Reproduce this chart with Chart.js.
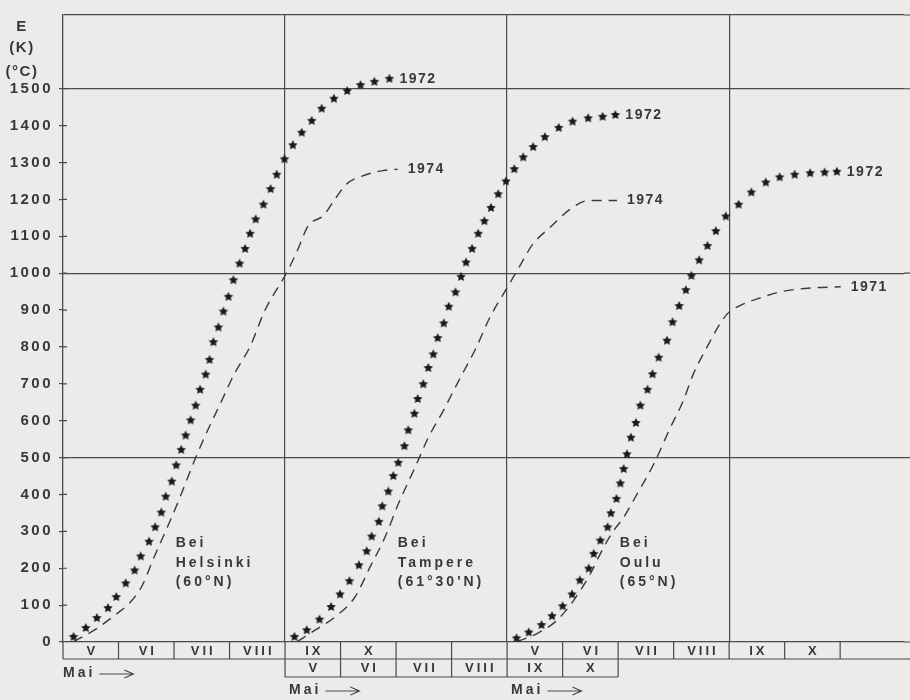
<!DOCTYPE html>
<html>
<head>
<meta charset="utf-8">
<script src="https://cdn.jsdelivr.net/npm/chart.js@4"></script>
<style>
  html, body { margin: 0; padding: 0; background: #ebebe9; overflow: hidden; }
  canvas { display: block; }
</style>
</head>
<body>
<canvas id="sumChart" width="910" height="700"></canvas>
<script>
// Temperatursummen E (K), x in Monaten ab Anfang Mai (jede Station um 4 Monate versetzt)
const helsinki1972 = [[0.19,14],[0.41,38],[0.61,65],[0.81,92],[0.96,122],[1.13,159],[1.29,194],[1.40,232],[1.55,272],[1.66,311],[1.77,351],[1.85,394],[1.96,435],[2.04,479],[2.13,521],[2.21,560],[2.30,601],[2.39,641],[2.47,684],[2.57,725],[2.64,765],[2.71,813],[2.80,853],[2.89,896],[2.98,936],[3.07,981],[3.18,1026],[3.28,1066],[3.37,1107],[3.47,1146],[3.61,1186],[3.74,1228],[3.85,1267],[3.99,1309],[4.14,1347],[4.30,1381],[4.48,1413],[4.66,1446],[4.88,1473],[5.12,1494],[5.36,1510],[5.61,1519],[5.88,1527]];
const helsinki1974 = [[0.19,1],[0.56,32],[0.98,78],[1.22,109],[1.43,154],[1.64,230],[1.88,311],[2.12,397],[2.39,500],[2.60,572],[2.83,645],[3.08,725],[3.37,801],[3.64,900],[4.02,999],[4.21,1057],[4.42,1129],[4.69,1156],[4.90,1201],[5.11,1242],[5.40,1264],[5.76,1278],[6.03,1282]];
const tampere1972 = [[4.17,14],[4.39,32],[4.62,61],[4.83,95],[4.99,129],[5.16,165],[5.33,208],[5.47,246],[5.56,286],[5.69,326],[5.75,368],[5.86,408],[5.95,450],[6.04,486],[6.15,531],[6.22,574],[6.33,619],[6.39,659],[6.49,699],[6.58,743],[6.67,780],[6.75,824],[6.86,864],[6.95,909],[7.07,948],[7.17,990],[7.26,1029],[7.37,1066],[7.48,1107],[7.59,1141],[7.71,1177],[7.84,1214],[7.98,1249],[8.13,1282],[8.29,1314],[8.47,1342],[8.68,1369],[8.93,1394],[9.18,1411],[9.46,1420],[9.72,1424],[9.95,1429]];
const tampere1974 = [[4.22,1],[4.54,32],[4.90,68],[5.26,122],[5.53,203],[5.80,284],[6.04,374],[6.34,473],[6.58,554],[6.88,635],[7.00,671],[7.22,734],[7.44,797],[7.68,877],[8.01,963],[8.22,1017],[8.45,1076],[8.81,1129],[9.14,1174],[9.47,1197],[9.98,1197]];
const oulu1972 = [[8.17,10],[8.39,26],[8.62,46],[8.81,70],[9.00,97],[9.17,129],[9.31,167],[9.47,199],[9.56,239],[9.68,275],[9.81,311],[9.87,349],[9.97,388],[10.04,430],[10.10,469],[10.16,509],[10.23,554],[10.32,594],[10.40,641],[10.53,684],[10.62,726],[10.73,771],[10.88,817],[10.98,867],[11.10,911],[11.22,954],[11.32,993],[11.46,1035],[11.61,1074],[11.76,1114],[11.94,1154],[12.17,1186],[12.40,1219],[12.66,1246],[12.91,1260],[13.18,1267],[13.46,1271],[13.72,1273],[13.94,1275]];
const oulu1971 = [[8.18,1],[8.54,23],[8.90,59],[9.20,113],[9.50,185],[9.74,257],[9.92,302],[10.10,338],[10.34,401],[10.64,482],[10.94,581],[11.17,653],[11.35,725],[11.56,788],[11.95,887],[12.22,914],[12.52,931],[12.94,950],[13.48,960],[14.01,963]];

// Monatskästchen unter der Achse
const monthRow1 = ['V','VI','VII','VIII','IX','X','','','V','VI','VII','VIII','IX','X',''];
const monthRow2 = ['V','VI','VII','VIII','IX','X'];
const row2Start = 4;

// Stationen (Beginn in Monaten) und Beschriftung
const panelStarts = [0, 4, 8];
const panelCaptions = [
    ['Bei', 'Helsinki', '(60°N)'],
    ['Bei', 'Tampere', "(61°30'N)"],
    ['Bei', 'Oulu', '(65°N)']
];

const yTickValues = [0,100,200,300,400,500,600,700,800,900,1000,1100,1200,1300,1400,1500,1600,1700];
const yGridValues = [500, 1000, 1500, 1700];
const xPanelLines = [0, 4, 8, 12];

const ink = '#383838';
const lineCol = '#4a4a4a';
const paper = '#ebebe9';
const fontFam = '"Liberation Sans", Arial, sans-serif';

// gefüllter fünfzackiger Stern als Punktsymbol
function makeStar(r) {
    const c = document.createElement('canvas');
    c.width = c.height = 2 * r + 2;
    const g = c.getContext('2d');
    g.translate(r + 1, r + 1);
    g.beginPath();
    for (let i = 0; i < 10; i++) {
        const rad = i % 2 ? r * 0.5 : r;
        const a = -Math.PI / 2 + i * Math.PI / 5;
        g.lineTo(rad * Math.cos(a), rad * Math.sin(a));
    }
    g.closePath();
    g.fillStyle = '#1a1a1a';
    g.fill();
    return c;
}
const star = makeStar(5);

const toXY = arr => arr.map(p => ({ x: p[0], y: p[1] }));

function starSet(label, arr) {
    return {
        label: label, data: toXY(arr), showLine: false,
        pointStyle: star, pointRadius: 5, pointHoverRadius: 5
    };
}
function dashSet(label, arr) {
    return {
        label: label, data: toXY(arr), showLine: true,
        borderColor: '#3a3a3a', borderWidth: 1.4, borderDash: [10, 7],
        cubicInterpolationMode: 'monotone', pointRadius: 0, pointHoverRadius: 0
    };
}

const datasets = [
    starSet('1972', helsinki1972), dashSet('1974', helsinki1974),
    starSet('1972', tampere1972), dashSet('1974', tampere1974),
    starSet('1972', oulu1972), dashSet('1971', oulu1971)
];

const figurePlugin = {
    id: 'figure',
    beforeDraw(chart) {
        const c = chart.ctx;
        c.save();
        c.fillStyle = paper;
        c.fillRect(0, 0, chart.width, chart.height);
        c.restore();
        // gesperrte Schrift auch für die Achsenbeschriftung
        c.letterSpacing = '2.5px';
    },
    afterDraw(chart) {
        const c = chart.ctx;
        const xs = chart.scales.x, ys = chart.scales.y;
        const area = chart.chartArea;
        const X = v => xs.getPixelForValue(v);
        const Y = v => ys.getPixelForValue(v);
        const right = chart.width;
        c.save();
        c.fillStyle = ink;
        c.strokeStyle = lineCol;
        c.lineWidth = 1.2;

        // Achsentitel
        c.font = 'bold 15px ' + fontFam;
        c.letterSpacing = '1.5px';
        c.textAlign = 'center';
        c.textBaseline = 'middle';
        c.fillText('E', 22, 27);
        c.fillText('(K)', 22, 48);
        c.fillText('(°C)', 22, 72);

        // kleine Striche innen an der y-Achse, Gitterlinien bis zum Rand
        c.beginPath();
        yTickValues.forEach(v => {
            if (v > 0 && v <= 1500) {
                c.moveTo(area.left, Y(v));
                c.lineTo(area.left + 4, Y(v));
            }
        });
        yGridValues.forEach(v => { c.moveTo(area.right, Y(v)); c.lineTo(right, Y(v)); });
        c.moveTo(area.right, area.bottom); c.lineTo(right, area.bottom);
        c.stroke();

        // Monatskästchen
        const base = area.bottom;
        const r1 = base + 17, r2 = base + 35;
        c.beginPath();
        c.moveTo(area.left, r1); c.lineTo(right, r1);
        for (let i = 0; i < monthRow1.length; i++) {
            c.moveTo(X(i), base); c.lineTo(X(i), r1);
        }
        const r2End = row2Start + monthRow2.length;
        c.moveTo(X(row2Start), r1); c.lineTo(X(row2Start), r2);
        c.lineTo(X(r2End), r2);
        for (let i = 1; i <= monthRow2.length; i++) {
            c.moveTo(X(row2Start + i), r1); c.lineTo(X(row2Start + i), r2);
        }
        c.stroke();

        c.font = 'bold 13px ' + fontFam;
        c.letterSpacing = '3px';
        c.textAlign = 'center';
        monthRow1.forEach((m, i) => {
            if (m) c.fillText(m, (X(i) + X(i + 1)) / 2 + 1.5, base + 9);
        });
        monthRow2.forEach((m, i) => {
            c.fillText(m, (X(row2Start + i) + X(row2Start + i + 1)) / 2 + 1.5, r1 + 9);
        });

        // "Mai ->" unter jeder Station
        c.font = 'bold 14px ' + fontFam;
        c.letterSpacing = '3px';
        c.textAlign = 'left';
        panelStarts.forEach((s, k) => {
            const x0 = X(s) + (k === 0 ? 0 : 4);
            const yy = k === 0 ? r1 + 14 : r2 + 13;
            c.fillText('Mai', x0, yy);
            const w = c.measureText('Mai').width;
            const ax = x0 + w + 4, bx = ax + 34;
            c.beginPath();
            c.moveTo(ax, yy + 1); c.lineTo(bx, yy + 1);
            c.moveTo(bx - 9, yy - 3); c.lineTo(bx, yy + 1); c.lineTo(bx - 9, yy + 5);
            c.stroke();
        });

        // Jahreszahlen am Kurvenende
        c.font = 'bold 14px ' + fontFam;
        c.letterSpacing = '1.5px';
        c.textBaseline = 'middle';
        chart.data.datasets.forEach((ds, i) => {
            const meta = chart.getDatasetMeta(i);
            const last = meta.data[meta.data.length - 1];
            c.fillText(ds.label, last.x + 10, last.y);
        });

        // Stationsnamen
        c.letterSpacing = '3px';
        panelStarts.forEach((s, k) => {
            const x0 = X(s + 2.03), y0 = Y(267);
            panelCaptions[k].forEach((t, j) => c.fillText(t, x0, y0 + j * 19.5));
        });
        c.restore();
    }
};

const canvas = document.getElementById('sumChart');

new Chart(canvas, {
    type: 'scatter',
    data: { datasets: datasets },
    options: {
        responsive: false,
        animation: false,
        events: [],
        layout: { padding: { top: 12, right: 0, bottom: 58, left: 0 } },
        plugins: { legend: { display: false }, tooltip: { enabled: false } },
        scales: {
            x: {
                type: 'linear', min: 0, max: 15.15,
                afterBuildTicks: s => { s.ticks = xPanelLines.map(v => ({ value: v })); },
                ticks: { display: false },
                grid: {
                    drawTicks: false, lineWidth: 1.2,
                    color: ctx => (ctx.tick && ctx.tick.value > 0) ? lineCol : 'transparent'
                },
                border: { display: true, color: lineCol, width: 1.3 }
            },
            y: {
                type: 'linear', min: 0, max: 1700,
                afterBuildTicks: s => { s.ticks = yTickValues.map(v => ({ value: v })); },
                afterFit: s => { s.width = 63; },
                ticks: {
                    color: ink, padding: 6,
                    font: { family: fontFam, size: 15, weight: 'bold' },
                    callback: v => v <= 1500 ? String(v) : ''
                },
                grid: {
                    lineWidth: 1.2, tickLength: 4,
                    color: ctx => (ctx.tick && yGridValues.includes(ctx.tick.value)) ? lineCol : 'transparent',
                    tickColor: ctx => (ctx.tick && ctx.tick.value <= 1500) ? lineCol : 'transparent'
                },
                border: { display: true, color: lineCol, width: 1.3 }
            }
        }
    },
    plugins: [figurePlugin]
});
</script>
</body>
</html>
